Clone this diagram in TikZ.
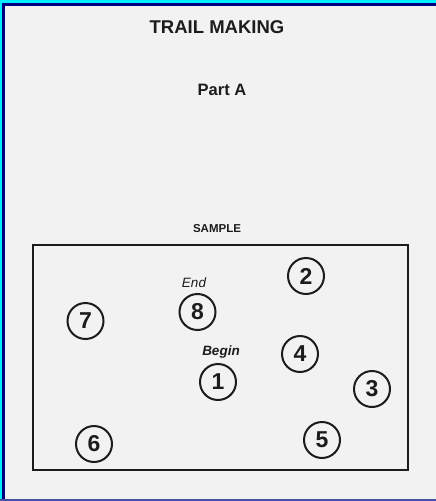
\documentclass[tikz,border=0pt]{standalone}
\usepackage{fontspec}
\setmainfont{Liberation Sans}
\definecolor{bg}{HTML}{F2F2F2}
\definecolor{ink}{HTML}{1C1C1C}
\definecolor{frcyan}{HTML}{00F0FF}
\definecolor{frnavy}{HTML}{000080}
\definecolor{frblue}{HTML}{4A52A8}
\begin{document}
\begin{tikzpicture}[x=1pt,y=-1pt,
  num/.style={circle,draw=ink,line width=2pt,minimum size=36pt,inner sep=0pt,
    font=\fontsize{23}{23}\selectfont\bfseries,text=ink},
  lbl/.style={font=\fontsize{13.5}{13.5}\selectfont\itshape,text=ink,inner sep=0pt},
  ttl/.style={font=\bfseries,text=ink,inner sep=0pt}]
\useasboundingbox (0,0) rectangle (436,501);
\fill[bg] (0,0) rectangle (436,501);
% frame
\fill[frcyan] (0,0) rectangle (436,3);
\fill[frcyan] (0,0) rectangle (2,501);
\fill[frnavy] (2,3) rectangle (436,5.5);
\fill[frnavy] (2,3) rectangle (5,501);
\fill[frblue] (0,498.5) rectangle (436,501);
% titles
\node[ttl,font=\fontsize{18.5}{18.5}\selectfont\bfseries] (title) at (217,27) {TRAIL MAKING};
\node[ttl,font=\fontsize{16.5}{16.5}\selectfont\bfseries] (part) at (222,90) {Part A};
\node[ttl,font=\fontsize{11.5}{11.5}\selectfont\bfseries] (sample) at (217,229) {SAMPLE};
% box
\draw[ink,line width=2pt] (33,245) rectangle (408,470);
% circles
\node[num] (n2) at (306,276) {2};
\node[num] (n8) at (197.5,312) {8};
\node[num] (n7) at (85.5,321) {7};
\node[num] (n4) at (300,354) {4};
\node[num] (n1) at (218,382) {1};
\node[num] (n3) at (372,389) {3};
\node[num] (n5) at (322,440) {5};
\node[num] (n6) at (94,444) {6};
% labels
\node[lbl] (end) at (194,283) {End};
\node[lbl,font=\fontsize{13.5}{13.5}\selectfont\bfseries\itshape] (begin) at (221,352) {Begin};
\end{tikzpicture}
\end{document}
